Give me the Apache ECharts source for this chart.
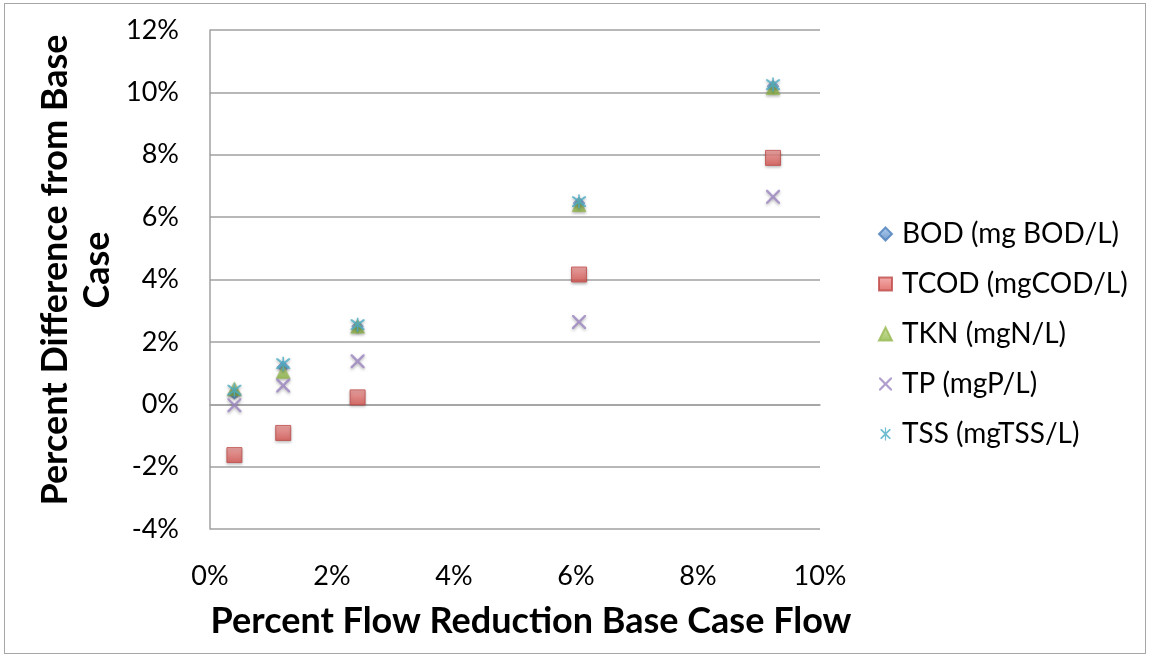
<!DOCTYPE html>
<html>
<head>
<meta charset="utf-8">
<script src="https://cdn.jsdelivr.net/npm/echarts@6/dist/echarts.min.js"></script>
<style>
  html, body { margin: 0; padding: 0; background: #fff; }
  #frame { position: absolute; left: 4px; top: 3px; width: 1142px; height: 651px; border: 1px solid #A6A6A6; box-sizing: border-box; }
  #chart { position: absolute; left: 0; top: 0; width: 1151px; height: 659px; }
</style>
</head>
<body>
<div id="frame"></div>
<div id="chart"></div>
<script>
// Flow reduction (% of base case flow) for each scenario
const flowReduction = [0.40, 1.20, 2.42, 6.05, 9.23];

// Percent difference from base case, per constituent
const bod  = [0.35, 1.20, 2.50, 6.45, 10.20];
const tcod = [-1.63, -0.92, 0.22, 4.16, 7.90];
const tkn  = [0.50, 1.05, 2.50, 6.40, 10.15];
const tp   = [-0.03, 0.60, 1.38, 2.64, 6.65];
const tss  = [0.45, 1.30, 2.55, 6.50, 10.25];

const seriesNames = ['BOD (mg BOD/L)', 'TCOD (mgCOD/L)', 'TKN (mgN/L)', 'TP (mgP/L)', 'TSS (mgTSS/L)'];

const FONT = 'Lato, "Open Sans", sans-serif';

// thin cross and asterisk outlines as filled paths
const xPath = 'path://M0,0 L1.2,0 L5,3.8 L8.8,0 L10,0 L10,1.2 L6.2,5 L10,8.8 L10,10 L8.8,10 L5,6.2 L1.2,10 L0,10 L0,8.8 L3.8,5 L0,1.2 Z';
const starPath = 'path://M0,0 L1.2,0 L5,3.8 L8.8,0 L10,0 L10,1.2 L6.2,5 L10,8.8 L10,10 L8.8,10 L5,6.2 L1.2,10 L0,10 L0,8.8 L3.8,5 L0,1.2 Z M4.4,-1.5 L5.6,-1.5 L5.6,11.5 L4.4,11.5 Z';

function pairs(ys) { return flowReduction.map((x, i) => [x, ys[i]]); }

function grad(top, bottom) {
  return new echarts.graphic.LinearGradient(0, 0, 0, 1, [
    { offset: 0, color: top }, { offset: 1, color: bottom }
  ]);
}

const shadow = { shadowBlur: 3, shadowColor: 'rgba(0,0,0,0.35)', shadowOffsetY: 1.5 };

const chart = echarts.init(document.getElementById('chart'), null, { renderer: 'canvas' });

chart.setOption({
  animation: false,
  backgroundColor: 'transparent',
  grid: { left: 210, top: 30, right: 331, bottom: 130, containLabel: false },
  xAxis: {
    type: 'value', min: 0, max: 10, interval: 2,
    axisLine: { show: true, lineStyle: { color: '#A0A0A0', width: 1.5 } },
    axisTick: { show: false },
    splitLine: { show: false },
    axisLabel: { formatter: '{value}%', color: '#000', fontSize: 27, fontFamily: FONT, margin: 34 }
  },
  yAxis: {
    type: 'value', min: -4, max: 12, interval: 2,
    axisLine: { show: true, onZero: false, lineStyle: { color: '#A0A0A0', width: 1.5 } },
    axisTick: { show: false },
    splitLine: { show: true, lineStyle: { color: '#A0A0A0', width: 1.5 } },
    axisLabel: { formatter: '{value}%', color: '#000', fontSize: 27, fontFamily: FONT, margin: 31 }
  },
  legend: {
    orient: 'vertical', left: 873, top: 215,
    itemWidth: 13, itemHeight: 13, itemGap: 22,
    textStyle: { color: '#000', fontSize: 28, fontFamily: FONT, padding: [0, 0, 0, 5] },
    data: seriesNames
  },
  graphic: [
    {
      type: 'text', x: 531, y: 621,
      style: { text: 'Percent Flow Reduction Base Case Flow', fontSize: 36, fontWeight: 'bold',
               fontFamily: FONT, fill: '#000', align: 'center', verticalAlign: 'middle' }
    },
    {
      type: 'text', x: 76, y: 270, rotation: Math.PI / 2,
      style: { text: 'Percent Difference from Base\nCase', fontSize: 36, fontWeight: 'bold',
               fontFamily: FONT, fill: '#000', align: 'center', verticalAlign: 'middle', lineHeight: 42 }
    }
  ],
  series: [
    {
      name: seriesNames[0], type: 'scatter', data: pairs(bod),
      symbol: 'diamond', symbolSize: 12,
      itemStyle: Object.assign({ color: grad('#9DC3F0', '#4F81BD'), borderColor: '#4A7EBB', borderWidth: 0.5 }, shadow)
    },
    {
      name: seriesNames[1], type: 'scatter', data: pairs(tcod),
      symbol: 'rect', symbolSize: 15,
      itemStyle: Object.assign({ color: grad('#F29A98', '#D9534F'), borderColor: '#BE4B48', borderWidth: 1 }, shadow)
    },
    {
      name: seriesNames[2], type: 'scatter', data: pairs(tkn),
      symbol: 'triangle', symbolSize: 14,
      itemStyle: Object.assign({ color: grad('#C3DC8C', '#8CB640'), borderColor: '#98B954', borderWidth: 0.5 }, shadow)
    },
    {
      name: seriesNames[3], type: 'scatter', data: pairs(tp),
      symbol: xPath, symbolSize: 14,
      itemStyle: Object.assign({ color: '#9B85C0' }, shadow)
    },
    {
      name: seriesNames[4], type: 'scatter', data: pairs(tss),
      symbol: starPath, symbolSize: 14,
      itemStyle: Object.assign({ color: '#4BACC6' }, shadow)
    }
  ]
});
</script>
</body>
</html>
